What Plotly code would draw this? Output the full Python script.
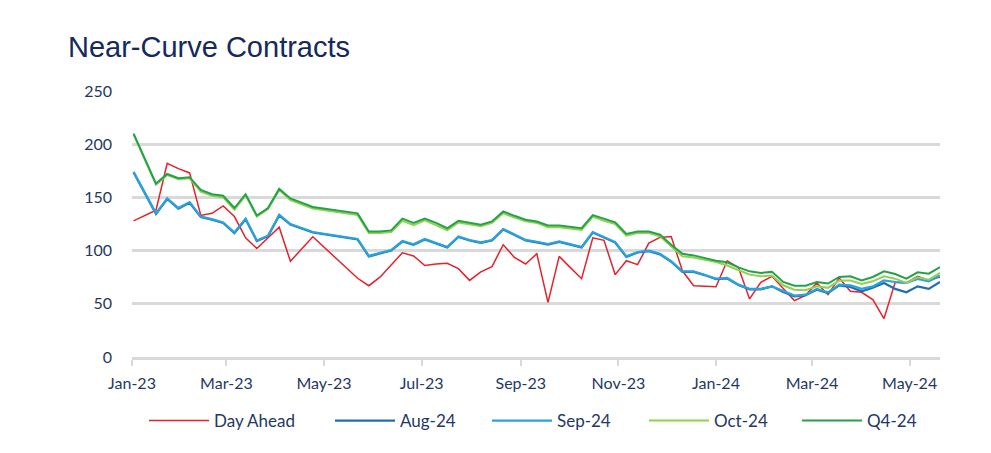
import plotly.graph_objects as go

dates = [
    "2023-01-02", "2023-01-16", "2023-01-23", "2023-01-30", "2023-02-06", "2023-02-13",
    "2023-02-20", "2023-02-27", "2023-03-06", "2023-03-13", "2023-03-20", "2023-03-27",
    "2023-04-03", "2023-04-10", "2023-04-24", "2023-05-22", "2023-05-29", "2023-06-05",
    "2023-06-12", "2023-06-19", "2023-06-26", "2023-07-03", "2023-07-10", "2023-07-17",
    "2023-07-24", "2023-07-31", "2023-08-07", "2023-08-14", "2023-08-21", "2023-08-28",
    "2023-09-04", "2023-09-11", "2023-09-18", "2023-09-25", "2023-10-02", "2023-10-09",
    "2023-10-16", "2023-10-23", "2023-10-30", "2023-11-06", "2023-11-13", "2023-11-20",
    "2023-11-27", "2023-12-04", "2023-12-11", "2023-12-18", "2023-12-25", "2024-01-01",
    "2024-01-08", "2024-01-15", "2024-01-22", "2024-01-29", "2024-02-05", "2024-02-12",
    "2024-02-19", "2024-02-26", "2024-03-04", "2024-03-11", "2024-03-18", "2024-03-25",
    "2024-04-01", "2024-04-08", "2024-04-15", "2024-04-22", "2024-04-29", "2024-05-06",
    "2024-05-13", "2024-05-20",
]

day_ahead = [
    128, 138, 182, 177, 173, 133, 135, 142, 132, 112, 102, 112,
    122, 90, 113, 74, 67, 75, 86, 98, 95, 86, 87.5, 88,
    83, 72, 80, 85, 105.5, 93.6, 87.4, 97, 51.4, 94.6, 84, 73.6,
    112, 109.6, 77.4, 90.5, 86.8, 107, 112.4, 113.3, 81, 67, 66.5, 66,
    90.5, 84.2, 54.6, 70.2, 75.8, 64, 53, 58, 69.6, 58.6, 74.3, 61.7,
    60.8, 54, 36.1, 70.2, 69.6, 75.8, 72, 75.2,
]

aug_24 = [
    173.5, 134.5, 148.5, 139.5, 145, 131.5, 129, 126, 116.5, 129.5, 109, 113.5,
    133, 124.5, 117, 110.5, 94.5, 97, 100, 108.5, 105.5, 110.5, 106.5, 103,
    112.8, 109.5, 107.2, 109.5, 119.8, 114.5, 109.5, 107.8, 105.7, 108.1, 105.7, 103,
    117, 112, 107.5, 94, 98.2, 99.5, 96.5, 89.5, 80, 80, 77, 73.2,
    73.8, 67.6, 63.6, 63.6, 66.4, 61, 57, 58, 63.3, 60.2, 67.4, 65.8,
    61.7, 65, 69.6, 64, 60.8, 66.4, 64, 70.5,
]

sep_24 = [
    174, 135, 149, 140, 145.6, 132, 129.6, 126.5, 117, 130, 109.6, 114,
    133.7, 125, 117.5, 111, 95, 97.5, 100.5, 109, 106, 111, 107, 103.4,
    113.3, 110, 107.7, 110, 120.3, 115, 110, 108.3, 106.2, 108.6, 106.2, 103.4,
    117.4, 112.4, 108, 94.6, 98.7, 100, 97, 90, 80.5, 80.5, 77.4, 73.6,
    74.3, 68, 64, 64, 66.4, 61.7, 57.7, 58.6, 64, 60.8, 68, 67.4,
    64, 66.4, 72, 70.5, 69.6, 73.4, 71.1, 76.5,
]

oct_24 = [
    209, 162, 171, 167, 168, 155.5, 151.5, 150, 138.5, 152, 132, 139,
    157, 147.5, 139.5, 133.5, 116.5, 116.5, 117.5, 128, 124, 128.5, 124, 119,
    126.5, 124.5, 123, 126, 135, 131, 127.5, 126, 122, 122, 120.5, 119.5,
    132, 128, 125, 114, 116.5, 116.5, 113.5, 104.5, 94.6, 93.6, 91.5, 89.3,
    86, 81.4, 77.4, 75.8, 76.5, 67.4, 63.3, 62.7, 66.4, 65, 71.8, 71.8,
    68.7, 71.1, 75.8, 73.6, 69.6, 74.9, 72.7, 79,
]

q4_24 = [
    210, 163, 172, 168, 169, 157, 153, 151.5, 140, 153, 133, 140,
    158, 149, 141, 135, 118, 118, 119, 130, 126, 130, 126, 121,
    128, 126, 124.3, 127.4, 136.8, 132.7, 129, 127.4, 123.6, 123.6, 122, 121,
    133.4, 129.6, 126.5, 115.6, 118, 118, 115, 105.5, 97, 95.5, 93, 90.5,
    89, 84.2, 80.5, 79, 80, 70.5, 67, 67, 70.5, 69, 75.2, 75.8,
    72, 75.2, 80.5, 78, 73.6, 79.6, 78.3, 84.6,
]

series = [
    ("Day Ahead", day_ahead, "#E4222B", 1.5),
    ("Aug-24", aug_24, "#1F6DB2", 2.2),
    ("Sep-24", sep_24, "#29A3DE", 2.2),
    ("Oct-24", oct_24, "#92D050", 2),
    ("Q4-24", q4_24, "#22A34A", 2),
]

# left edge of each legend entry (page pixels)
legend_x = [149, 335, 492, 649, 802]

navy = "#1F3864"

fig = go.Figure()
legend_layout = {}
for i, (name, values, colour, width) in enumerate(series):
    key = "legend" if i == 0 else "legend%d" % (i + 1)
    fig.add_trace(go.Scatter(x=dates, y=values, name=name, mode="lines",
                             line=dict(color=colour, width=width), legend=key))
    # one legend per entry so the spacing can follow the original
    legend_layout[key] = dict(
        orientation="h", xref="container", yref="container",
        x=(legend_x[i] - 8 - 5) / 991, xanchor="left",
        y=1 - (421 - 8) / 453, yanchor="middle",
        font=dict(size=17, color=navy), itemwidth=60,
        bgcolor="rgba(0,0,0,0)",
    )

# the page puts the figure 8px in from the top-left corner, so margins are trimmed by 8
fig.update_layout(
    width=991, height=453,
    margin=dict(l=124, r=59, t=83, b=104),
    plot_bgcolor="white", paper_bgcolor="white",
    font=dict(family="Lato, Open Sans, sans-serif", size=16, color=navy),
    title=dict(text="Near-Curve Contracts", x=60 / 991, xref="container", xanchor="left",
               y=1 - 39 / 453, yref="container", yanchor="middle",
               font=dict(family="Liberation Sans, Arial", size=29, color="#14295C")),
    showlegend=True,
    **legend_layout,
)

fig.update_xaxes(
    type="date", range=["2023-01-01", "2024-05-20"],
    tick0="2023-01-01", dtick="M2", tickformat="%b-%y",
    showgrid=False, showline=True, linecolor="#D9D9D9", linewidth=2.5,
    ticks="outside", tickcolor="#D9D9D9", ticklen=6, tickwidth=1.5,
    ticklabelstandoff=4, zeroline=False,
)

fig.update_yaxes(
    range=[0, 250], dtick=50, showgrid=True, gridcolor="#D9D9D9", gridwidth=2.5,
    zeroline=False, showline=False, ticks="", ticklabelstandoff=19,
)

fig.write_html("out.html")
